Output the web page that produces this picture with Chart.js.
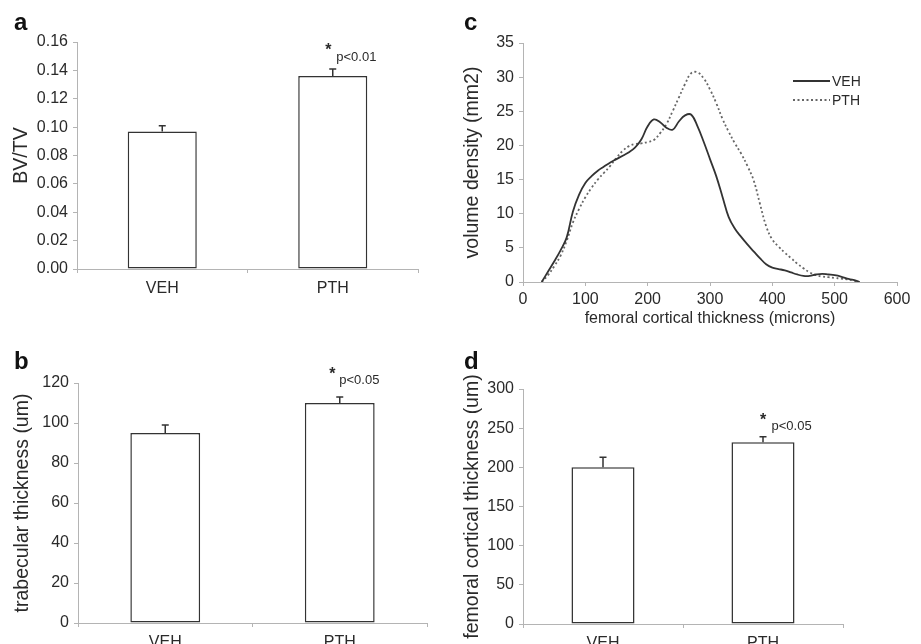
<!DOCTYPE html>
<html>
<head>
<meta charset="utf-8">
<script src="https://cdn.jsdelivr.net/npm/chart.js@4"></script>
<style>
  body { margin: 0; background: #fff; }
  #page { position: relative; width: 921px; height: 644px; overflow: hidden; }
  canvas { position: absolute; }
</style>
</head>
<body>
<div id="page">
  <canvas id="panel-a" width="440" height="310" style="left:0;top:0"></canvas>
  <canvas id="panel-c" width="461" height="330" style="left:460px;top:0"></canvas>
  <canvas id="panel-b" width="440" height="314" style="left:0;top:330px"></canvas>
  <canvas id="panel-d" width="461" height="314" style="left:460px;top:330px"></canvas>
</div>
<script>
// Data

const groups = ['VEH', 'PTH'];

const bvtvMean = [0.097, 0.136],
    bvtvErr = [0.004, 0.005];

const tbThMean = [95, 110],
    tbThErr = [4, 3];

const ctThMean = [200, 232],
    ctThErr = [13, 7];

const pNotes = ['p<0.01', 'p<0.05', 'p<0.05'];

// cortical thickness distribution (panel c)
const thicknessMicrons = [30, 40, 50, 60, 70, 80, 90, 100, 110, 120, 130, 140, 150, 160, 170, 180, 190,
    200, 210, 220, 230, 240, 250, 260, 270, 280, 290, 300, 310, 320, 330, 340, 350, 360, 370, 380, 390,
    400, 410, 420, 430, 440, 450, 460, 470, 480, 490, 500, 510, 520, 530, 540];
const vehDensity = [0, 1.5, 3, 4.6, 6.5, 10.3, 12.8, 14.5, 15.5, 16.3, 16.9, 17.5, 18.0, 18.5, 19.0, 19.7, 20.9,
    22.8, 23.8, 23.4, 22.6, 22.3, 23.5, 24.4, 24.5, 22.8, 20.5, 18.0, 15.5, 12.5, 9.5, 7.8, 6.6, 5.5, 4.5, 3.5, 2.6,
    2.1, 1.9, 1.7, 1.4, 1.1, 0.9, 0.9, 1.1, 1.2, 1.1, 1.0, 0.8, 0.5, 0.3, 0];
const pthDensity = [0, 1.0, 2.3, 3.8, 6.0, 8.7, 10.7, 12.4, 13.8, 15.0, 16.0, 17.0, 18.2, 19.2, 19.9, 20.2, 20.3,
    20.5, 20.8, 21.8, 23.1, 25.0, 27.0, 29.0, 30.6, 30.7, 29.8, 28.2, 26.2, 23.9, 22.0, 20.3, 18.8, 17.0, 14.9, 11.5, 8.2,
    6.2, 5.2, 4.3, 3.5, 2.7, 2.0, 1.4, 1.0, 0.8, 0.7, 0.6, 0.5, 0.4, 0.2, 0];

// Styles
const fontFamily = '"Liberation Sans", Arial, sans-serif',
    axisGray = '#b4b4b4',
    inkColor = '#2a2a2a';

Chart.defaults.font.family = fontFamily;
Chart.defaults.color = inkColor;
Chart.defaults.animation = false;

// Panel letter (a, b, c, d)
const panelLetter = {
    id: 'panelLetter',
    afterDraw(chart, args, opts) {
        const ctx = chart.ctx;
        ctx.save();
        ctx.font = 'bold 24px ' + fontFamily;
        ctx.fillStyle = '#111';
        ctx.textBaseline = 'alphabetic';
        ctx.fillText(opts.text, opts.x, opts.y);
        ctx.restore();
    }
};

// Upper error bars + significance note over the PTH bar
const errorBars = {
    id: 'errorBars',
    afterDatasetsDraw(chart, args, opts) {
        const ctx = chart.ctx,
            yScale = chart.scales.y,
            ds = chart.data.datasets[0],
            meta = chart.getDatasetMeta(0);
        ctx.save();
        ctx.strokeStyle = '#333';
        ctx.lineWidth = 1.5;
        let tops = [];
        meta.data.forEach(function(bar, i){
            let top = yScale.getPixelForValue(ds.data[i] + opts.errors[i]);
            tops.push(top);
            ctx.beginPath();
            ctx.moveTo(bar.x, bar.y);
            ctx.lineTo(bar.x, top);
            ctx.moveTo(bar.x - 3.5, top);
            ctx.lineTo(bar.x + 3.5, top);
            ctx.stroke();
        });
        // note on the second bar
        let bar = meta.data[1], top = tops[1];
        ctx.fillStyle = inkColor;
        ctx.textBaseline = 'middle';
        ctx.font = 'bold 16px ' + fontFamily;
        ctx.textAlign = 'center';
        ctx.fillText('*', bar.x + opts.starDx, top + opts.starDy);
        ctx.font = '13px ' + fontFamily;
        ctx.textAlign = 'left';
        ctx.fillText(opts.note, bar.x + opts.noteDx, top + opts.noteDy);
        ctx.restore();
    }
};

// Build one bar panel
const makeBarPanel = function(id, cfg){
    return new Chart(document.getElementById(id), {
        type: 'bar',
        data: {
            labels: groups,
            datasets: [{
                data: cfg.means,
                backgroundColor: '#fff',
                borderColor: '#333',
                borderWidth: 1.5,
                borderSkipped: false,
                barPercentage: cfg.barPct,
                categoryPercentage: 1
            }]
        },
        options: {
            responsive: false,
            layout: {padding: cfg.padding},
            events: [],
            scales: {
                x: {
                    offset: true,
                    grid: {drawOnChartArea: false, color: axisGray, tickLength: 4, offset: true},
                    border: {color: axisGray, width: 1},
                    ticks: {font: {size: 16}, padding: 6, color: inkColor},
                    afterFit: function(scale){ scale.height = cfg.xHeight; }
                },
                y: {
                    min: 0,
                    max: cfg.max,
                    grid: {drawOnChartArea: false, color: axisGray, tickLength: 4},
                    border: {color: axisGray, width: 1},
                    ticks: {
                        stepSize: cfg.step,
                        font: {size: 16},
                        padding: 5,
                        color: inkColor,
                        callback: function(v){ return v.toFixed(cfg.decimals); }
                    },
                    title: {display: true, text: cfg.title, font: {size: 19.5}, padding: {top: cfg.titlePad, bottom: 0}, color: inkColor},
                    afterFit: function(scale){ scale.width = cfg.yWidth; }
                }
            },
            plugins: {
                legend: {display: false},
                tooltip: {enabled: false},
                panelLetter: cfg.letter,
                errorBars: cfg.errorBars
            }
        },
        plugins: [panelLetter, errorBars]
    });
};

// a: BV/TV
makeBarPanel('panel-a', {
    means: bvtvMean, max: 0.16, step: 0.02, decimals: 2, title: 'BV/TV',
    barPct: 0.405, padding: {top: 42, right: 22, left: 0, bottom: 0},
    xHeight: 41, yWidth: 77, titlePad: 10,
    letter: {text: 'a', x: 14, y: 30},
    errorBars: {errors: bvtvErr, note: pNotes[0], starDx: -4.5, starDy: -18, noteDx: 3.5, noteDy: -12}
});

// b: trabecular thickness
makeBarPanel('panel-b', {
    means: tbThMean, max: 120, step: 20, decimals: 0, title: 'trabecular thickness (um)',
    barPct: 0.4, padding: {top: 53, right: 13, left: 0, bottom: 0},
    xHeight: 21, yWidth: 78, titlePad: 11,
    letter: {text: 'b', x: 14, y: 39},
    errorBars: {errors: tbThErr, note: pNotes[1], starDx: -7.5, starDy: -22, noteDx: -0.5, noteDy: -17}
});

// d: femoral cortical thickness
makeBarPanel('panel-d', {
    means: ctThMean, max: 300, step: 50, decimals: 0, title: 'femoral cortical thickness (um)',
    barPct: 0.394, padding: {top: 59, right: 78, left: 0, bottom: 0},
    xHeight: 20, yWidth: 63, titlePad: 1,
    letter: {text: 'd', x: 4, y: 39},
    errorBars: {errors: ctThErr, note: pNotes[2], starDx: 0, starDy: -16, noteDx: 8.5, noteDy: -10}
});

// c: distribution curves with a small line legend
const lineLegend = {
    id: 'lineLegend',
    afterDraw(chart, args, opts) {
        const ctx = chart.ctx;
        ctx.save();
        chart.data.datasets.forEach(function(ds, i){
            let y = opts.y + i * opts.gap;
            ctx.strokeStyle = ds.borderColor;
            ctx.lineWidth = ds.borderWidth;
            ctx.setLineDash(ds.borderDash || []);
            ctx.beginPath();
            ctx.moveTo(opts.x, y);
            ctx.lineTo(opts.x + opts.len, y);
            ctx.stroke();
            ctx.setLineDash([]);
            ctx.fillStyle = inkColor;
            ctx.font = '14px ' + fontFamily;
            ctx.textBaseline = 'middle';
            ctx.fillText(ds.label, opts.x + opts.len + 2, y + 1);
        });
        ctx.restore();
    }
};

new Chart(document.getElementById('panel-c'), {
    type: 'line',
    data: {
        datasets: [{
            label: 'VEH',
            data: thicknessMicrons.map((t, i) => ({x: t, y: vehDensity[i]})),
            borderColor: '#333',
            borderWidth: 1.8,
            pointRadius: 0,
            tension: 0.4
        }, {
            label: 'PTH',
            data: thicknessMicrons.map((t, i) => ({x: t, y: pthDensity[i]})),
            borderColor: '#666',
            borderWidth: 1.8,
            borderDash: [2, 2.5],
            pointRadius: 0,
            tension: 0.4
        }]
    },
    options: {
        responsive: false,
        events: [],
        layout: {padding: {top: 43, right: 24, left: 0, bottom: 0}},
        scales: {
            x: {
                type: 'linear',
                min: 0,
                max: 600,
                grid: {drawOnChartArea: false, color: axisGray, tickLength: 4},
                border: {color: axisGray, width: 1},
                ticks: {stepSize: 100, font: {size: 16}, padding: 4, color: inkColor},
                title: {display: true, text: 'femoral cortical thickness (microns)', font: {size: 16}, padding: {top: 0, bottom: 2}, color: inkColor},
                afterFit: function(scale){ scale.height = 48; }
            },
            y: {
                min: 0,
                max: 35,
                grid: {drawOnChartArea: false, color: axisGray, tickLength: 4},
                border: {color: axisGray, width: 1},
                ticks: {stepSize: 5, font: {size: 16}, padding: 5, color: inkColor},
                title: {display: true, text: 'volume density (mm2)', font: {size: 19.5}, padding: {top: 1, bottom: 0}, color: inkColor},
                afterFit: function(scale){ scale.width = 63; }
            }
        },
        plugins: {
            legend: {display: false},
            tooltip: {enabled: false},
            panelLetter: {text: 'c', x: 4, y: 30},
            lineLegend: {x: 333, y: 81, gap: 19, len: 37}
        }
    },
    plugins: [panelLetter, lineLegend]
});
</script>
</body>
</html>
